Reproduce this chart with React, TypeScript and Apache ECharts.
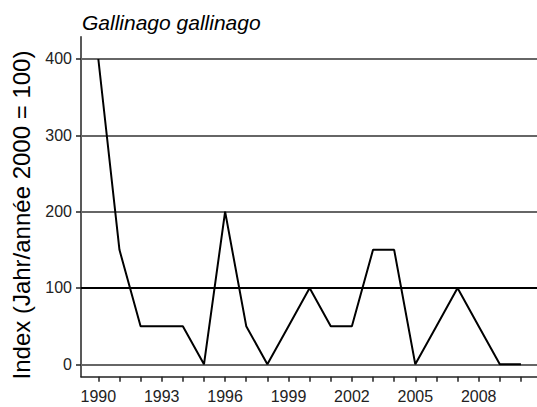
import React, { useEffect, useRef } from "react";
import * as echarts from "echarts";

const years = [1990, 1991, 1992, 1993, 1994, 1995, 1996, 1997, 1998, 1999, 2000, 2001, 2002, 2003, 2004, 2005, 2006, 2007, 2008, 2009, 2010];
const indexValues = [400, 150, 50, 50, 50, 0, 200, 50, 0, 50, 100, 50, 50, 150, 150, 0, 50, 100, 50, 0, 0];
const xLabelYears = [1990, 1993, 1996, 1999, 2002, 2005, 2008];
const yTicks = [0, 100, 200, 300, 400];
const referenceValue = 100;
const titleText = "Gallinago gallinago";
const yAxisTitle = "Index (Jahr/année 2000 = 100)";

export default function App() {
  const ref = useRef<HTMLDivElement>(null);
  useEffect(() => {
    if (!ref.current) return;
    const chart = echarts.init(ref.current, undefined, { renderer: "svg" });
    const font = "Arial, 'Liberation Sans', sans-serif";
    chart.setOption({
      animation: false,
      backgroundColor: "#ffffff",
      textStyle: { fontFamily: font },
      grid: { left: 81, right: 0, top: 36.7, bottom: 30.3, containLabel: false },
      graphic: [
        {
          type: "text",
          x: 82,
          y: 22,
          style: {
            text: titleText,
            font: `italic 21px ${font}`,
            fill: "#000",
            align: "left",
            verticalAlign: "middle",
          },
        },
        {
          type: "text",
          x: 21,
          y: 215,
          rotation: Math.PI / 2,
          style: {
            text: yAxisTitle,
            font: `24px ${font}`,
            fill: "#000",
            align: "center",
            verticalAlign: "middle",
          },
        },
      ],
      xAxis: {
        type: "value",
        min: 1989.18,
        max: 2010.76,
        axisLine: { show: true, onZero: false, lineStyle: { color: "#222", width: 1.5 } },
        axisTick: { show: true, length: 5, customValues: years, lineStyle: { color: "#222", width: 1.5 } },
        axisLabel: {
          customValues: xLabelYears,
          formatter: (v: number) => String(Math.round(v)),
          margin: 12,
          fontSize: 16,
          color: "#222",
          fontFamily: font,
        },
        splitLine: { show: false },
      },
      yAxis: {
        type: "value",
        min: -16.2,
        max: 429.2,
        axisLine: { show: true, lineStyle: { color: "#222", width: 1.5 } },
        axisTick: { show: true, length: 5, customValues: yTicks, lineStyle: { color: "#222", width: 1.5 } },
        axisLabel: {
          customValues: yTicks,
          formatter: (v: number) => String(Math.round(v)),
          margin: 9,
          fontSize: 16,
          color: "#222",
          fontFamily: font,
        },
        splitLine: { show: false },
      },
      series: [
        {
          type: "line",
          data: years.map((y, i) => [y, indexValues[i]]),
          symbol: "none",
          lineStyle: { color: "#000", width: 2 },
          z: 3,
          markLine: {
            silent: true,
            symbol: "none",
            label: { show: false },
            z: 1,
            data: yTicks.map((v) => ({
              yAxis: v,
              lineStyle:
                v === referenceValue
                  ? { color: "#000", width: 2, type: "solid" }
                  : { color: "#666", width: 2, type: "solid" },
            })),
          },
        },
      ],
    });
    return () => chart.dispose();
  }, []);
  return <div ref={ref} style={{ width: 537, height: 407, position: "absolute", left: 0, top: 0 }} />;
}
